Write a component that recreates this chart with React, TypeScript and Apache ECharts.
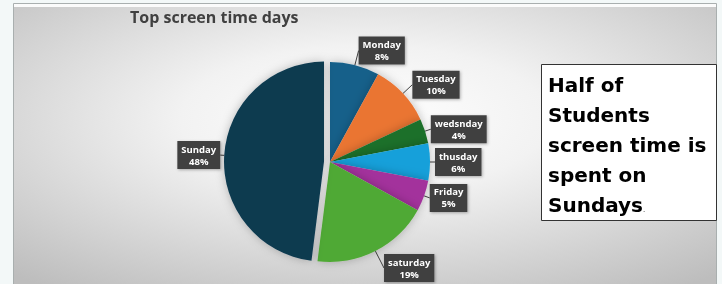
import React, { useEffect, useRef } from "react";
import * as echarts from "echarts";

const days = ["Monday", "Tuesday", "wedsnday", "thusday", "Friday", "saturday", "Sunday"];
const shares = [8, 10, 4, 6, 5, 19, 48];
const sliceColors = ["#17618a", "#ea7433", "#1f6f2a", "#14a0da", "#a3339c", "#50a934", "#0e3a50"];
const highlightDay = "Sunday";
const titleText = "Top screen time days";
const noteLines = ["Half of", "Students", "screen time is", "spent on", "Sundays"];

export default function App() {
  const ref = useRef<HTMLDivElement>(null);
  useEffect(() => {
    if (!ref.current) return;
    const chart = echarts.init(ref.current, undefined, { renderer: "svg" });
    const lineLens = [15, 13, 6, 5, 6, 19, 4];
    const noteText =
      noteLines.slice(0, -1).map((l) => `{b|${l}}`).join("\n") +
      `\n{b|${noteLines[noteLines.length - 1]}}{s|.}`;
    chart.setOption({
      animation: false,
      title: {
        text: titleText,
        left: 130,
        top: 9,
        padding: 0,
        textStyle: { fontFamily: "Open Sans", fontWeight: "bold", fontSize: 16, color: "#404040" },
      },
      graphic: [
        { type: "rect", z: -10, shape: { x: 0, y: 0, width: 722, height: 284 }, style: { fill: "#f3f8f8" } },
        {
          type: "rect",
          z: -9,
          shape: { x: 13.5, y: 3.5, width: 703, height: 285 },
          style: { fill: "#fbfbfb", stroke: "#a9afaf", lineWidth: 1 },
        },
        {
          type: "rect",
          z: -8,
          shape: { x: 14, y: 7, width: 702, height: 280 },
          style: {
            fill: new echarts.graphic.RadialGradient(0.5, 0.4, 0.75, [
              { offset: 0, color: "#ffffff" },
              { offset: 0.35, color: "#f2f2f2" },
              { offset: 1, color: "#bdbdbd" },
            ]),
          },
        },
        {
          type: "rect",
          z: 10,
          shape: { x: 541.5, y: 64.5, width: 175, height: 156 },
          style: { fill: "#ffffff", stroke: "#333333", lineWidth: 1 },
        },
        {
          type: "text",
          z: 11,
          x: 548,
          y: 70,
          style: {
            text: noteText,
            textVerticalAlign: "top",
            rich: {
              b: { fontFamily: "DejaVu Sans", fontWeight: "bold", fontSize: 20, lineHeight: 30, fill: "#000000" },
              s: { fontFamily: "DejaVu Sans", fontSize: 7, lineHeight: 7, padding: [9, 0, 0, 0], fill: "#000000" },
            },
          },
        },
      ],
      series: [
        {
          type: "pie",
          center: [330, 162],
          radius: 100,
          startAngle: 90,
          clockwise: true,
          selectedMode: "single",
          selectedOffset: 6,
          avoidLabelOverlap: false,
          itemStyle: { shadowBlur: 10, shadowColor: "rgba(0,0,0,0.25)" },
          label: {
            show: true,
            position: "outside",
            distanceToLabelLine: 0,
            formatter: "{a|{b}}\n{a|{c}%}",
            backgroundColor: "#404040",
            padding: [2, 4],
            shadowBlur: 3,
            shadowColor: "rgba(0,0,0,0.3)",
            shadowOffsetX: 1,
            shadowOffsetY: 1,
            rich: {
              a: {
                fontFamily: "Open Sans",
                fontWeight: "bold",
                fontSize: 9.5,
                lineHeight: 12,
                color: "#ffffff",
                align: "center",
              },
            },
          },
          labelLine: { show: true, length: 8, length2: 0, lineStyle: { color: "#404040", width: 1 } },
          emphasis: { disabled: true },
          data: days.map((d, i) => ({
            name: d,
            value: shares[i],
            selected: d === highlightDay,
            itemStyle: { color: sliceColors[i] },
            labelLine: { length: lineLens[i], length2: 0 },
          })),
        },
      ],
    });
    return () => chart.dispose();
  }, []);
  return <div ref={ref} style={{ position: "fixed", left: 0, top: 0, width: 722, height: 284 }} />;
}
